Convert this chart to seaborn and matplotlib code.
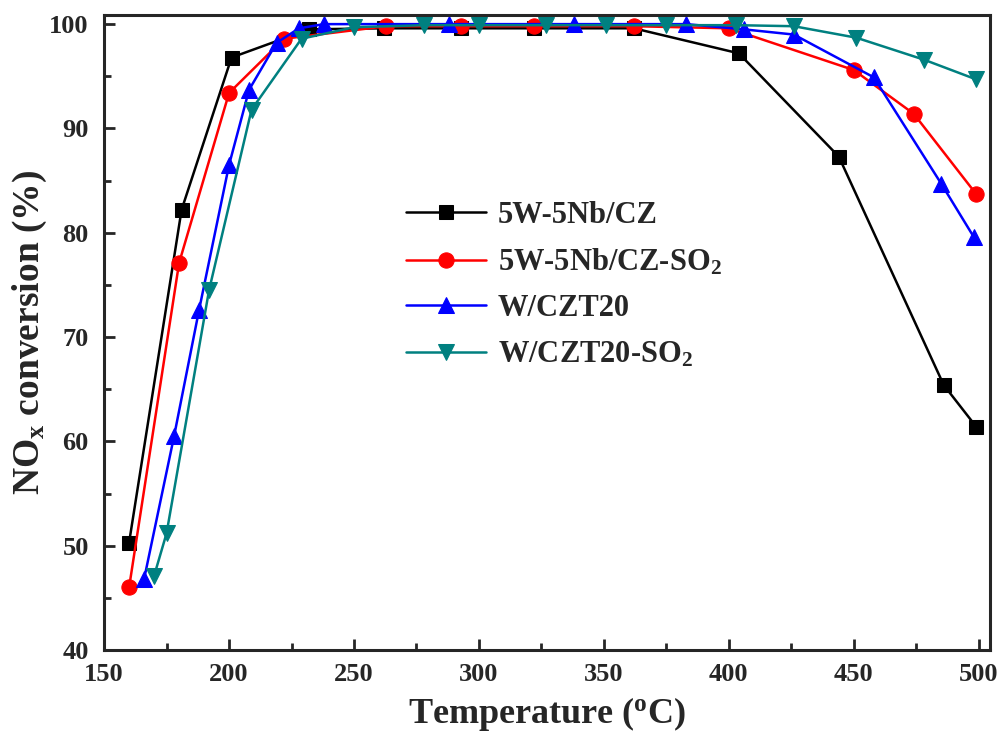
import matplotlib
matplotlib.use("Agg")
import matplotlib.pyplot as plt
from matplotlib.ticker import MultipleLocator
import seaborn as sns

# data
temp_cz = [160, 181, 201, 232, 262, 293, 322, 362, 404, 444, 486, 499]
conv_cz = [50.3, 82.2, 96.8, 99.5, 99.6, 99.6, 99.6, 99.6, 97.2, 87.3, 65.4, 61.4]

temp_cz_so2 = [160, 180, 200, 222, 263, 293, 322, 362, 400, 450, 474, 499]
conv_cz_so2 = [46.0, 77.1, 93.4, 98.6, 99.8, 99.8, 99.8, 99.8, 99.6, 95.6, 91.4, 83.7]

temp_czt = [166, 178, 188, 200, 208, 219, 228, 238, 288, 338, 383, 406, 426, 458, 485, 498]
conv_czt = [46.8, 60.5, 72.6, 86.5, 93.7, 98.2, 99.6, 100.0, 100.0, 100.0, 100.0, 99.5, 99.0, 94.9, 84.7, 79.6]

temp_czt_so2 = [170, 175, 192, 209, 229, 250, 278, 300, 327, 351, 375, 403, 426, 451, 478, 499]
conv_czt_so2 = [47.1, 51.2, 74.5, 91.8, 98.6, 99.7, 99.9, 99.9, 99.9, 99.9, 99.9, 99.9, 99.8, 98.7, 96.6, 94.7]

labels = ["5W-5Nb/CZ", r"5W-5Nb/CZ-SO$_2$", "W/CZT20", r"W/CZT20-SO$_2$"]
colors = ["black", "red", "blue", "#008080"]
markers = ["s", "o", "^", "v"]

sns.set_style("ticks")
plt.rcParams["font.family"] = ["Liberation Serif", "DejaVu Serif"]
plt.rcParams["font.weight"] = "bold"
plt.rcParams["mathtext.fontset"] = "custom"
plt.rcParams["mathtext.rm"] = "Liberation Serif:bold"
plt.rcParams["mathtext.it"] = "Liberation Serif:bold"
plt.rcParams["mathtext.bf"] = "Liberation Serif:bold"

fig = plt.figure(figsize=(10.01, 7.37), dpi=100)
ax = fig.add_axes([0.104, 0.118, 0.885, 0.862])

series = [
    (temp_cz, conv_cz),
    (temp_cz_so2, conv_cz_so2),
    (temp_czt, conv_czt),
    (temp_czt_so2, conv_czt_so2),
]
sizes = [9.5, 11, 11, 11]

for (t, c), lab, col, mk, ms in zip(series, labels, colors, markers, sizes):
    sns.lineplot(x=t, y=c, ax=ax, color=col, marker=mk, markersize=ms,
                 markeredgecolor=col, linewidth=1.8, label=lab)

ax.set_xlim(150, 504.5)
ax.set_ylim(40, 100.9)
ax.xaxis.set_major_locator(MultipleLocator(50))
ax.xaxis.set_minor_locator(MultipleLocator(25))
ax.yaxis.set_major_locator(MultipleLocator(10))
ax.yaxis.set_minor_locator(MultipleLocator(5))
ax.tick_params(which="both", direction="in", width=2, top=False, right=False,
               labelsize=19)
ax.tick_params(axis="x", pad=9)
ax.tick_params(axis="y", pad=11)
ax.tick_params(which="major", length=8)
ax.tick_params(which="minor", length=5)
for s in ax.spines.values():
    s.set_linewidth(2.2)
    s.set_visible(True)

ax.set_xlabel(r"Temperature ($^{\mathrm{o}}$C)", fontsize=26, fontweight="bold", labelpad=7)
ax.set_ylabel(r"NO$_x$ conversion (%)", fontsize=27, fontweight="bold", labelpad=0)

ax.legend(loc="upper left", bbox_to_anchor=(0.31, 0.75), frameon=False,
          fontsize=22, handlelength=2.6, labelspacing=0.55, markerscale=1.0,
          handletextpad=0.4)

fig.savefig("out.png", dpi=100)
